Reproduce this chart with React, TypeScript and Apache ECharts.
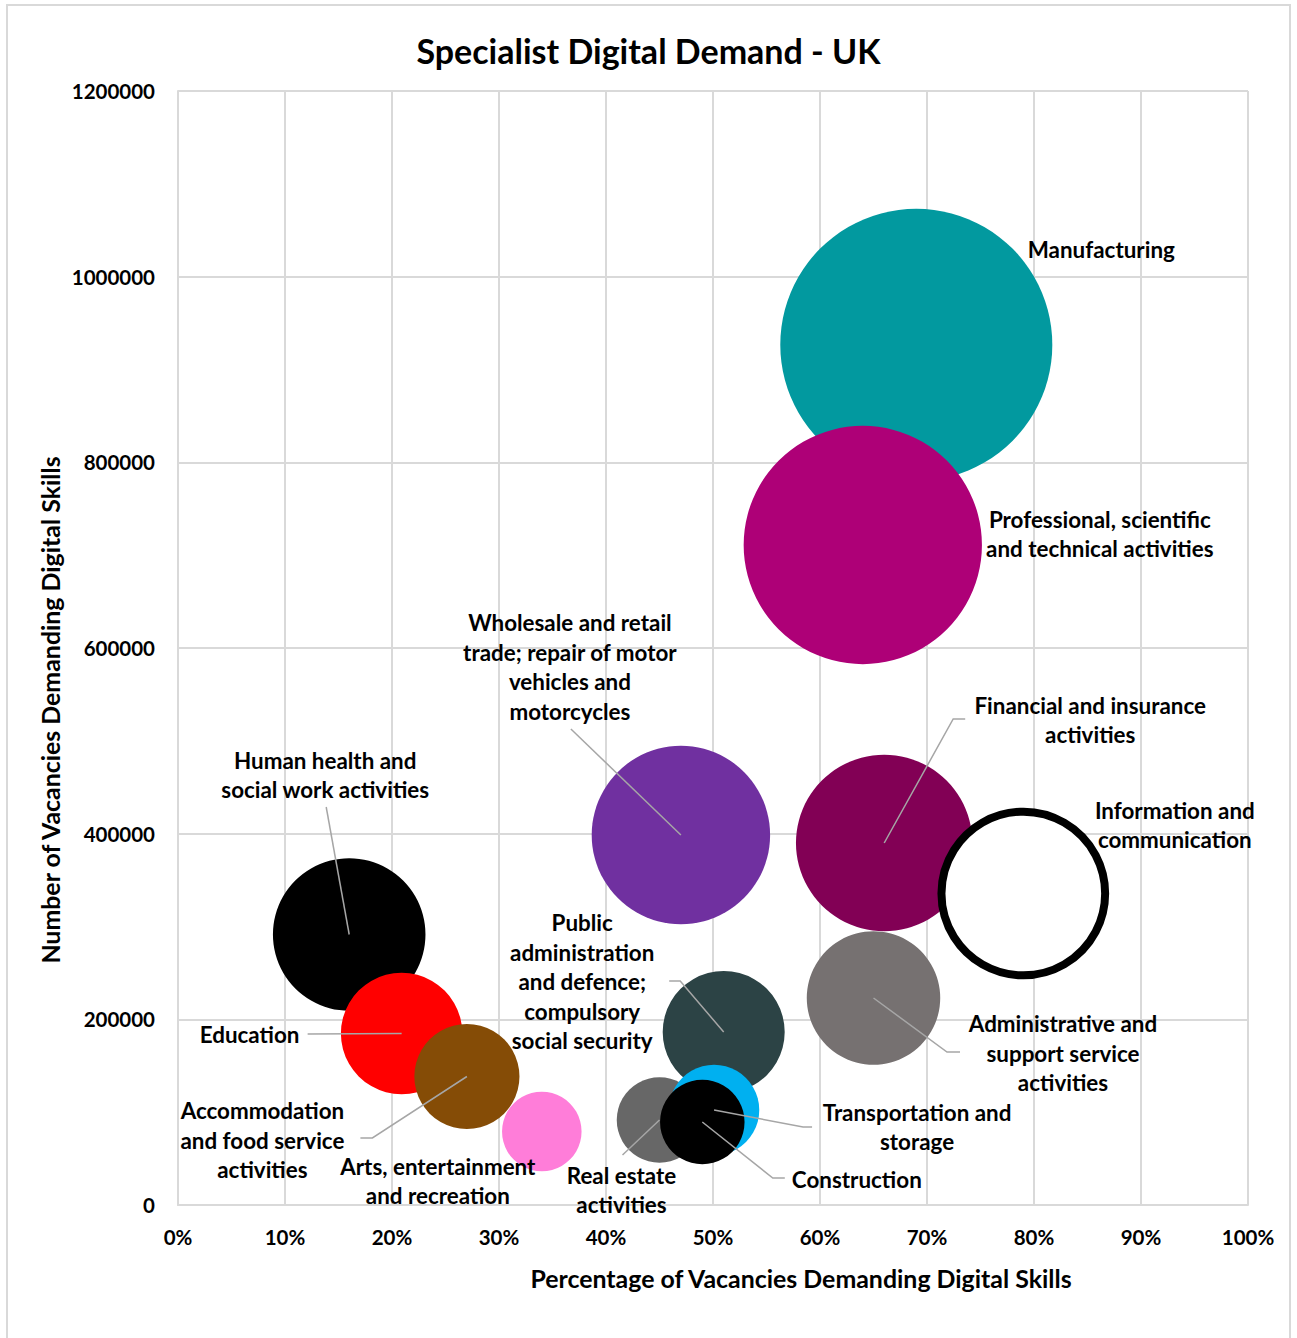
import React, { useEffect, useRef } from "react";
import * as echarts from "echarts";

// ---- Data ----
const categories = [
  "Manufacturing",
  "Professional, scientific and technical activities",
  "Wholesale and retail trade; repair of motor vehicles and motorcycles",
  "Financial and insurance activities",
  "Information and communication",
  "Human health and social work activities",
  "Education",
  "Accommodation and food service activities",
  "Arts, entertainment and recreation",
  "Public administration and defence; compulsory social security",
  "Administrative and support service activities",
  "Real estate activities",
  "Transportation and storage",
  "Construction",
];

const labelTexts = [
  "Manufacturing",
  "Professional, scientific\nand technical activities",
  "Wholesale and retail\ntrade; repair of motor\nvehicles and\nmotorcycles",
  "Financial and insurance\nactivities",
  "Information and\ncommunication",
  "Human health and\nsocial work activities",
  "Education",
  "Accommodation\nand food service\nactivities",
  "Arts, entertainment\nand recreation",
  "Public\nadministration\nand defence;\ncompulsory\nsocial security",
  "Administrative and\nsupport service\nactivities",
  "Real estate\nactivities",
  "Transportation and\nstorage",
  "Construction",
];

// Percentage of vacancies demanding digital skills (x)
const pctDigital = [69, 64, 47, 66, 79, 16, 20.9, 27, 34, 51, 65, 45, 50.1, 49];
// Number of vacancies demanding digital skills (y, also bubble size)
const vacancies = [
  926600, 710950, 398560, 389950, 335550, 291380, 184740, 138420, 79170,
  186360, 222980, 91560, 102330, 89400,
];

const xTickMax = 100;
const xTickStep = 10;
const yTickMax = 1200000;
const yTickStep = 200000;

// ---- Styles ----
const colors = [
  "#02999F", "#AE0077", "#7030A0", "#820055", "#FFFFFF", "#000000",
  "#FF0000", "#854C06", "#FF7DD9", "#2C4345", "#767171", "#676767",
  "#00B0F0", "#000000",
];
const outlinedIndex = 4;

// label centre offsets from bubble centre (px)
const labelOffsets: number[][] = [
  [185, -95], [237, -11], [-111, -168], [206, -123], [151.5, -68.5],
  [-24, -159.5], [-152, 1.5], [-204.5, 63.5], [-104, 49.5], [-141.5, -50],
  [189.5, 55], [-38, 70], [203, 17], [154.5, 57],
];
// leader line points relative to bubble centre (px)
const leaderPoints: (number[][] | null)[] = [
  null, null, [[-110, -106]], [[69, -124], [81, -124]], null,
  [[-23, -127.5]], [[-94, 0.5]], [[-94.5, 61.5], [-106.5, 61.5]], null,
  [[-43.5, -51], [-54.5, -51]], [[73.5, 54], [86.5, 54]], [[-37, 35]],
  [[89, 17], [98, 17]], [[70.5, 56], [82.5, 56]],
];

const SIZE_K = 0.2826;
const FONT_FAMILY = "Lato, 'Open Sans', sans-serif";
const GRID_COLOR = "#D9D9D9";

export default function App() {
  const ref = useRef<HTMLDivElement>(null);

  useEffect(() => {
    if (!ref.current) return;
    const chart = echarts.init(ref.current, null, { renderer: "svg" });

    const series = categories.map((name, i) => ({
      type: "scatter",
      name,
      data: [[pctDigital[i], vacancies[i]]],
      symbol: "circle",
      symbolSize: (v: number[]) => SIZE_K * Math.sqrt(v[1]),
      itemStyle:
        i === outlinedIndex
          ? { color: "#FFFFFF", borderColor: "#000000", borderWidth: 8, opacity: 1 }
          : { color: colors[i], opacity: 1 },
      emphasis: { disabled: true },
      silent: true,
    }));

    chart.setOption({
      animation: false,
      backgroundColor: "#FFFFFF",
      title: {
        text: "Specialist Digital Demand - UK",
        left: "center",
        top: 28,
        textStyle: {
          fontFamily: FONT_FAMILY,
          fontWeight: "bold",
          fontSize: 34,
          color: "#000",
        },
      },
      grid: { left: 178, right: 49, top: 91, bottom: 133, containLabel: false },
      xAxis: {
        type: "value",
        min: 0,
        max: xTickMax,
        interval: xTickStep,
        axisLine: { show: true, lineStyle: { color: GRID_COLOR, width: 2 } },
        axisTick: { show: false },
        splitLine: { show: true, lineStyle: { color: GRID_COLOR, width: 2 } },
        axisLabel: {
          formatter: "{value}%",
          margin: 21,
          fontFamily: FONT_FAMILY,
          fontWeight: "bold",
          fontSize: 20.5,
          color: "#000",
        },
      },
      yAxis: {
        type: "value",
        min: 0,
        max: yTickMax,
        interval: yTickStep,
        axisLine: { show: true, lineStyle: { color: GRID_COLOR, width: 2 } },
        axisTick: { show: false },
        splitLine: { show: true, lineStyle: { color: GRID_COLOR, width: 2 } },
        axisLabel: {
          formatter: (v: number) => String(v),
          margin: 23,
          fontFamily: FONT_FAMILY,
          fontWeight: "bold",
          fontSize: 20.5,
          color: "#000",
        },
      },
      series,
    });

    const font = `bold 22.4px ${FONT_FAMILY}`;
    const gfx: any[] = [
      {
        type: "rect",
        shape: { x: 7, y: 5, width: 1283, height: 1345 },
        style: { fill: null, stroke: GRID_COLOR, lineWidth: 2 },
        z: -10,
        silent: true,
      },
      {
        type: "text",
        x: 801,
        y: 1278,
        style: {
          text: "Percentage of Vacancies Demanding Digital Skills",
          font: `bold 24.9px ${FONT_FAMILY}`,
          fill: "#000",
          align: "center",
          verticalAlign: "middle",
        },
        z: 100,
      },
      {
        type: "text",
        x: 50,
        y: 710,
        rotation: Math.PI / 2,
        style: {
          text: "Number of Vacancies Demanding Digital Skills",
          font: `bold 24.9px ${FONT_FAMILY}`,
          fill: "#000",
          align: "center",
          verticalAlign: "middle",
        },
        z: 100,
      },
    ];

    categories.forEach((_, i) => {
      const p = chart.convertToPixel({ gridIndex: 0 }, [pctDigital[i], vacancies[i]]) as number[];
      const px = p[0];
      const py = p[1];
      const lo = labelOffsets[i];
      gfx.push({
        type: "text",
        x: px + lo[0],
        y: py + lo[1],
        style: {
          text: labelTexts[i],
          font,
          lineHeight: 29.5,
          fill: "#000",
          align: "center",
          verticalAlign: "middle",
        },
        z: 100,
        silent: true,
      });
      const lead = leaderPoints[i];
      if (lead) {
        gfx.push({
          type: "polyline",
          shape: { points: [[px, py], ...lead.map((q) => [px + q[0], py + q[1]])] },
          style: { stroke: "#A6A6A6", lineWidth: 1.5, fill: null },
          z: 99,
          silent: true,
        });
      }
    });

    chart.setOption({ graphic: { elements: gfx } });

    return () => {
      chart.dispose();
    };
  }, []);

  return (
    <div
      ref={ref}
      style={{ position: "fixed", left: 0, top: 0, width: 1297, height: 1338, background: "#fff" }}
    />
  );
}
